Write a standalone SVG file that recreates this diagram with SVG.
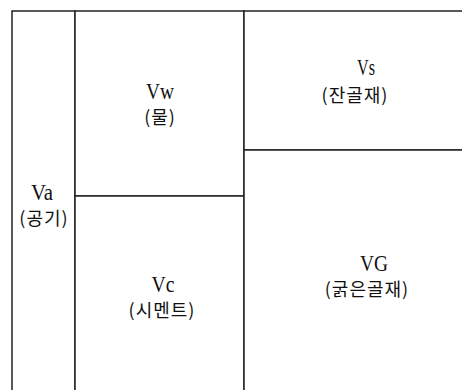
<svg xmlns="http://www.w3.org/2000/svg" width="462" height="390" viewBox="0 0 462 390">
<style>
.cell{fill:#fff;stroke:#222;stroke-width:1.5}
.lat{font-family:"Liberation Serif","Times New Roman",serif;font-size:23px;fill:#111;text-anchor:middle}
.kor{font-family:"Noto Sans CJK KR","Noto Sans",sans-serif;font-size:18px;fill:#111;text-anchor:middle;letter-spacing:1px}
</style>
<rect x="0" y="0" width="462" height="390" fill="#fff"/>
<g id="Va">
<rect class="cell" x="12" y="11" width="63" height="384"/>
<text class="lat" x="42" y="200" textLength="22" lengthAdjust="spacingAndGlyphs">Va</text>
<text class="kor" x="44" y="225">(공기)</text>
</g>
<g id="Vw">
<rect class="cell" x="75" y="11" width="169" height="185"/>
<text class="lat" x="160" y="99" textLength="28" lengthAdjust="spacingAndGlyphs">Vw</text>
<text class="kor" x="160" y="124">(물)</text>
</g>
<g id="Vc">
<rect class="cell" x="75" y="196" width="169" height="199"/>
<text class="lat" x="163" y="292" textLength="23" lengthAdjust="spacingAndGlyphs">Vc</text>
<text class="kor" x="162" y="317">(시멘트)</text>
</g>
<g id="Vs">
<rect class="cell" x="244" y="11" width="222" height="139"/>
<text class="lat" x="366" y="75" textLength="18" lengthAdjust="spacingAndGlyphs">Vs</text>
<text class="kor" x="355" y="102">(잔골재)</text>
</g>
<g id="VG">
<rect class="cell" x="244" y="150" width="222" height="245"/>
<text class="lat" x="374" y="271" textLength="28" lengthAdjust="spacingAndGlyphs">VG</text>
<text class="kor" x="367" y="296">(굵은골재)</text>
</g>
<g id="connectors"></g>
</svg>
